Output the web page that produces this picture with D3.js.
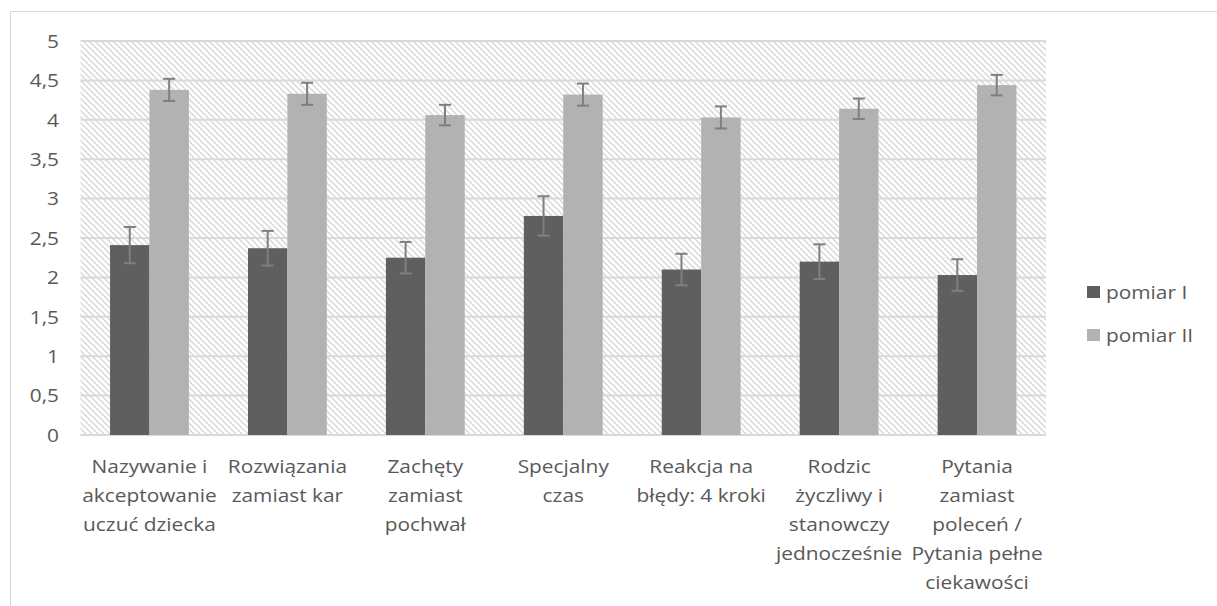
<!DOCTYPE html>
<html><head><meta charset="utf-8">
<script src="https://cdn.jsdelivr.net/npm/d3@7"></script>
<style>body{margin:0;background:#fff}svg{display:block}</style>
</head><body>
<script>
const categories = [
  ["Nazywanie i","akceptowanie","uczuć dziecka"],
  ["Rozwiązania","zamiast kar"],
  ["Zachęty","zamiast","pochwał"],
  ["Specjalny","czas"],
  ["Reakcja na","błędy: 4 kroki"],
  ["Rodzic","życzliwy i","stanowczy","jednocześnie"],
  ["Pytania","zamiast","poleceń /","Pytania pełne","ciekawości"]
];
const seriesNames = ["pomiar I","pomiar II"];
const pomiarI = [2.41, 2.37, 2.25, 2.78, 2.10, 2.20, 2.03];
const pomiarII = [4.38, 4.33, 4.06, 4.32, 4.03, 4.14, 4.44];
const errI = [0.23, 0.22, 0.20, 0.25, 0.20, 0.22, 0.20];
const errII = [0.14, 0.14, 0.13, 0.14, 0.14, 0.13, 0.13];
const yTicks = [0,0.5,1,1.5,2,2.5,3,3.5,4,4.5,5];
const yTickLabels = ["0","0,5","1","1,5","2","2,5","3","3,5","4","4,5","5"];
const colors = ["#5f5f5f","#b2b2b2"];

const W=1217,H=606;
const svg=d3.select("body").append("svg").attr("width",W).attr("height",H);
const font="'Open Sans', sans-serif";
const txt="#595959";
const FS=18.3, SX=1.14;

const defs=svg.append("defs");
const pat=defs.append("pattern").attr("id","hatch").attr("patternUnits","userSpaceOnUse")
  .attr("width",6).attr("height",6);
pat.append("rect").attr("width",6).attr("height",6).attr("fill","#fff");
pat.append("path").attr("d","M-1,-1 L7,7 M-1,5 L1,7 M5,-1 L7,1")
  .attr("stroke","#d9d9d9").attr("stroke-width",1.5);

svg.append("rect").attr("x",10.5).attr("y",11.5).attr("width",1215).attr("height",600)
  .attr("fill","none").attr("stroke","#d9d9d9").attr("stroke-width",1);

const L=80.5,R=1046,T=41,B=435;
const y=d3.scaleLinear().domain([0,5]).range([B,T]);
const idx=d3.range(categories.length);
const x0=d3.scaleBand().domain(idx).range([L,R]).padding(0);
const x1=d3.scaleBand().domain([0,1]).range([0,x0.bandwidth()]).paddingInner(0).paddingOuter(0.75);

svg.append("rect").attr("x",L).attr("y",T).attr("width",R-L).attr("height",B-T).attr("fill","url(#hatch)");

svg.append("g").selectAll("line").data(yTicks).join("line")
  .attr("x1",L).attr("x2",R).attr("y1",d=>y(d)).attr("y2",d=>y(d))
  .attr("stroke","#d9d9d9").attr("stroke-width",2);

function label(sel,x,yy,anchor){
  return sel.append("text").attr("transform",`translate(${x},${yy}) scale(${SX},1)`)
    .attr("text-anchor",anchor).attr("font-family",font).attr("font-size",FS).attr("fill",txt);
}

yTicks.forEach((d,i)=>{
  label(svg,59,y(d)+6.8,"end").text(yTickLabels[i]);
});

const series=[pomiarI,pomiarII], errs=[errI,errII];
series.forEach((vals,s)=>{
  svg.append("g").selectAll("rect").data(vals).join("rect")
    .attr("x",(d,i)=>x0(i)+x1(s)).attr("width",x1.bandwidth())
    .attr("y",d=>y(d)).attr("height",d=>B-y(d)).attr("fill",colors[s]);
});
series.forEach((vals,s)=>{
  const g=svg.append("g").attr("stroke","#7f7f7f").attr("stroke-width",2);
  vals.forEach((v,i)=>{
    const cx=x0(i)+x1(s)+x1.bandwidth()/2, e=errs[s][i];
    g.append("line").attr("x1",cx).attr("x2",cx).attr("y1",y(v+e)).attr("y2",y(v-e));
    g.append("line").attr("x1",cx-6).attr("x2",cx+6).attr("y1",y(v+e)).attr("y2",y(v+e));
    g.append("line").attr("x1",cx-6).attr("x2",cx+6).attr("y1",y(v-e)).attr("y2",y(v-e));
  });
});

idx.forEach(i=>{
  const cx=x0(i)+x0.bandwidth()/2;
  categories[i].forEach((ln,k)=>{
    label(svg,cx,473+k*29,"middle").text(ln);
  });
});

seriesNames.forEach((n,s)=>{
  const cy=292+s*43;
  svg.append("rect").attr("x",1087).attr("y",cy-6).attr("width",13).attr("height",12).attr("fill",colors[s]);
  label(svg,1106,cy+6.5,"start").text(n);
});
</script>
</body></html>
